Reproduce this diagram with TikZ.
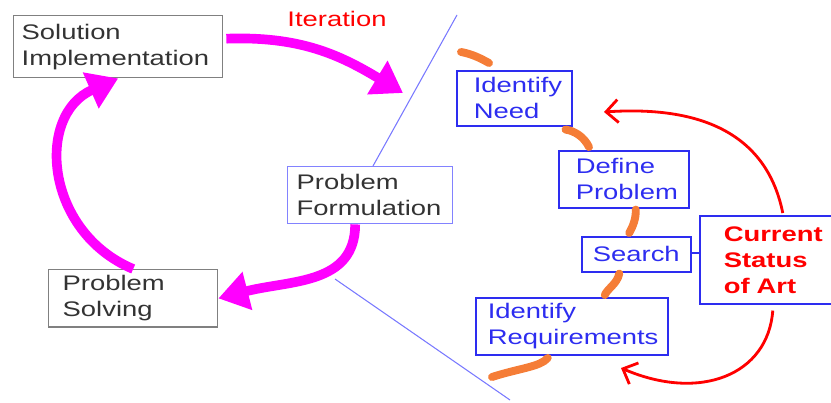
\documentclass[tikz,border=0pt]{standalone}
\usepackage{fontspec}
\setmainfont{Liberation Sans}[FakeStretch=1.3]
\usepackage{xcolor}
\usetikzlibrary{calc, arrows.meta}

\definecolor{arrowpink}{RGB}{255,0,255}
\definecolor{stepblue}{RGB}{45,45,240}
\definecolor{formblue}{RGB}{130,130,255}
\definecolor{lineblue}{RGB}{120,120,255}
\definecolor{linkorange}{RGB}{245,125,55}

\begin{document}
\begin{tikzpicture}[x=0.02cm, y=-0.02cm,
    greybox/.style={draw=black!50, line width=0.8pt, text=black!80, anchor=north west, align=left, font=\fontsize{12}{14.8}\selectfont},
    stepbox/.style={draw=stepblue, line width=0.9pt, text=stepblue, anchor=north west, align=left, font=\fontsize{12}{14.8}\selectfont},
    bigarrow/.style={-{Triangle[length=6mm, width=7.5mm]}, line width=5.5pt, color=arrowpink},
    redarrow/.style={-{Straight Barb[length=2.4mm, width=4.6mm]}, line width=1.6pt, red},
    linkmark/.style={line width=4.5pt, line cap=round, color=linkorange}]
    \useasboundingbox (0,0) rectangle (831,402);

    % Duong chia hai phan
    \coordinate (divtop) at (457,15);
    \coordinate (divlow) at (335,279);
    \coordinate (divend) at (510,400);
    \draw[lineblue, line width=0.6pt] (divtop) -- (373,166);
    \draw[lineblue, line width=0.6pt] (divlow) -- (divend);

    % Cac khoi ben trai
    \node[greybox, text width=3.86cm, inner xsep=0.16cm, minimum height=1.24cm] (sol) at (13,15) {Solution\\Implementation};
    \node[greybox, draw=formblue, text width=2.94cm, inner xsep=0.18cm, minimum height=1.14cm] (form) at (287,166) {Problem\\Formulation};
    \node[greybox, text width=2.82cm, inner xsep=0.28cm, minimum height=1.14cm] (solv) at (48,269) {Problem\\Solving};
    \node[text=red, font=\fontsize{12}{14.8}\selectfont] (iter) at (337,19) {Iteration};

    % Cac buoc ben phai
    \node[stepbox, text width=1.62cm, inner xsep=0.34cm, minimum height=1.1cm] (need) at (456,70) {Identify\\Need};
    \node[stepbox, text width=1.92cm, inner xsep=0.34cm, minimum height=1.14cm] (def) at (558,150) {Define\\Problem};
    \node[stepbox, text width=1.98cm, inner xsep=0.1cm, minimum height=0.7cm, align=center] (search) at (581,236) {Search};
    \node[stepbox, text=red, font=\fontsize{12}{14.8}\selectfont\bfseries, text width=1.84cm, inner xsep=0.48cm, minimum height=1.76cm] (cur) at (699,215) {Current\\Status\\of Art};
    \node[stepbox, text width=3.36cm, inner xsep=0.24cm, minimum height=1.12cm] (req) at (475,297) {Identify\\Requirements};
    \draw[stepblue, line width=0.9pt] ($(search.east)+(0,-1)$) -- ($(search.east -| cur.west)+(0,-1)$);

    % Vong lap mau hong
    \draw[bigarrow] ($(sol.east)+(3,-8)$) .. controls (300,36) and (340,55) .. (403,93);
    \draw[bigarrow] (solv.north) .. controls (45,232) and (35,115) .. (sol.south);
    \draw[bigarrow] ($(form.south)+(-15,0)$) .. controls (355,285) and (290,280) .. (solv.east);

    % Cac net cam noi cac buoc
    \draw[linkmark] (461,52) .. controls (472,54) and (480,58) .. (489,63);
    \draw[linkmark] ($(need.south east)+(-7,3)$) .. controls (575,131) and (584,137) .. ($(def.north west)+(31,-3)$);
    \draw[linkmark] ($(def.south)+(12,1)$) .. controls (636,219) and (633,226) .. ($(search.north)+(-7,-3)$);
    \draw[linkmark] ($(search.south)+(-17,1)$) .. controls (617,284) and (608,288) .. ($(req.north)+(33,-2)$);
    \draw[linkmark] ($(req.south)+(-24,2)$) .. controls (540,367) and (520,368) .. (492,377);

    % Mui ten do tu hien trang
    \draw[redarrow] ($(cur.north)+(13,-2)$) .. controls (768,140) and (710,105) .. (604,112);
    \draw[redarrow] ($(cur.south)+(3,6)$) .. controls (768,375) and (700,402) .. (621,368);
\end{tikzpicture}
\end{document}
